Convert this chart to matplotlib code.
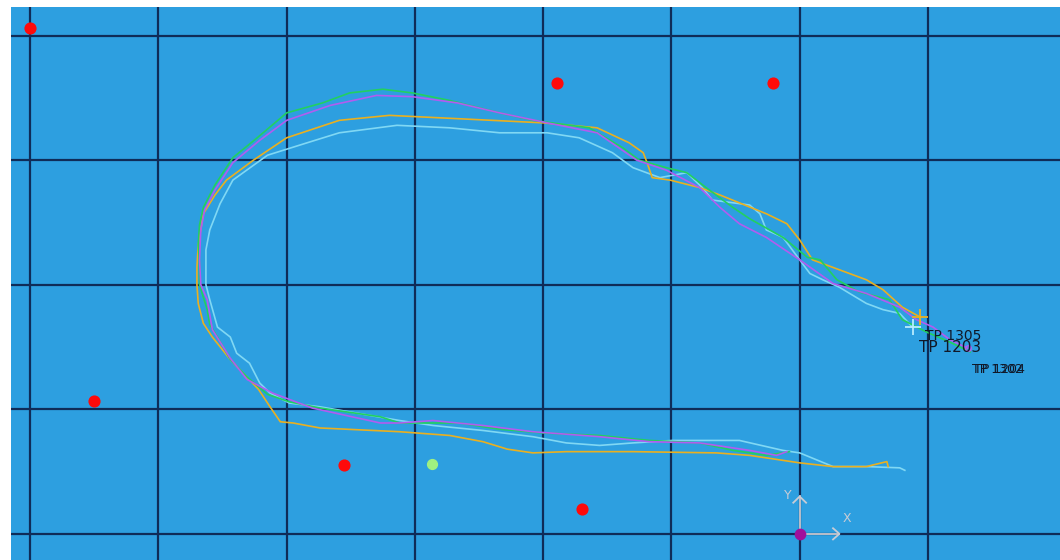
import matplotlib
matplotlib.use("Agg")
import matplotlib.pyplot as plt

# survey tracks, metres relative to the XY origin marker
green_x = [-0.8, -2.6, -5.2, -7.8, -11.7, -15.6, -20.0, -23.4, -26.5, -31.2, -32.7, -37.4, -39.8,
           -41.5, -43.1, -44.4, -45.4, -46.0, -46.2, -46.8, -46.8, -46.9, -46.8, -46.5, -45.6, -44.2,
           -42.3, -40.0, -37.2, -35.1, -32.5, -30.2, -27.3, -23.4, -20.8, -16.4, -13.8, -12.5, -10.4,
           -8.8, -7.3, -5.2, -3.9, -1.3, 0.6, 1.6, 2.9, 4.7, 7.0, 8.0, 9.9, 11.7, 13.3]
green_y = [6.6, 6.3, 6.7, 7.3, 7.5, 7.9, 8.1, 8.4, 8.9, 8.9, 9.4, 10.1, 10.6,
           11.2, 12.6, 14.0, 15.8, 16.8, 18.0, 20.0, 21.6, 23.2, 24.8, 26.2, 28.0, 30.2,
           31.8, 33.8, 34.6, 35.4, 35.7, 35.4, 34.8, 33.8, 33.2, 32.6, 31.0, 30.0, 29.4,
           29.0, 27.8, 26.2, 25.3, 23.8, 22.2, 22.0, 20.4, 19.4, 18.8, 17.2, 16.2, 15.4, 14.6]

purple_x = [-1.0, -1.8, -3.9, -7.8, -11.7, -15.6, -20.8, -24.7, -28.6, -31.2, -32.7, -38.0, -41.1,
            -43.1, -44.4, -45.8, -46.2, -46.7, -46.8, -46.7, -46.4, -45.6, -44.2, -42.1, -40.0, -36.6,
            -33.0, -30.2, -26.7, -23.4, -19.7, -15.8, -12.7, -10.4, -7.8, -6.2, -4.7, -2.6, 0.0,
            2.6, 5.2, 7.8, 9.1, 10.4, 11.7, 13.1]
purple_y = [6.6, 6.3, 6.7, 7.3, 7.4, 7.8, 8.2, 8.7, 9.1, 8.9, 8.9, 10.1, 11.3,
            12.4, 14.1, 16.4, 18.8, 20.0, 22.0, 24.4, 26.0, 27.6, 29.8, 31.6, 33.2, 34.4,
            35.2, 35.1, 34.6, 33.8, 33.0, 32.2, 30.0, 29.2, 27.8, 26.2, 24.9, 23.8, 22.0,
            20.1, 19.3, 18.2, 17.2, 16.6, 15.6, 14.9]

orange_x = [6.9, 6.8, 5.2, 2.6, 0.0, -3.9, -6.5, -13.0, -18.2, -20.8, -22.8, -24.7, -27.3,
            -31.2, -37.4, -39.5, -40.5, -41.3, -42.2, -43.4, -44.4, -45.8, -46.5, -46.9, -47.0,
            -47.0, -46.9, -46.5, -45.6, -44.7, -42.6, -40.0, -35.9, -32.0, -26.0, -20.0, -15.8,
            -13.3, -12.2, -11.9, -11.5, -10.1, -7.8, -6.2, -2.6, -1.0, 0.0, 1.0, 3.1, 5.2, 6.5,
            8.0, 9.4]
orange_y = [5.4, 5.8, 5.4, 5.4, 5.7, 6.3, 6.5, 6.6, 6.6, 6.5, 6.8, 7.4, 7.9,
            8.2, 8.5, 8.9, 9.0, 10.2, 11.6, 12.9, 14.0, 15.8, 16.9, 18.5, 20.0,
            21.4, 23.2, 25.7, 27.2, 28.4, 30.0, 31.8, 33.2, 33.6, 33.3, 33.0, 32.6,
            31.4, 30.6, 29.8, 28.6, 28.4, 27.8, 27.2, 25.7, 24.9, 23.6, 22.0, 21.2, 20.4, 19.6,
            18.2, 17.4]

cyan_x = [8.2, 7.8, 5.2, 2.6, 0.0, -1.3, -4.7, -9.9, -13.0, -15.6, -18.2, -20.8, -24.7,
          -28.6, -31.2, -37.4, -39.8, -41.3, -42.1, -42.9, -43.9, -44.4, -45.4, -46.0, -46.3,
          -46.3, -46.0, -45.2, -44.2, -41.5, -38.4, -35.9, -31.4, -27.3, -23.4, -19.7, -17.2,
          -14.6, -13.0, -10.9, -8.8, -7.6, -6.8, -3.9, -3.1, -2.6, -1.3, 0.0, 0.8, 1.8, 3.1,
          3.9, 5.2, 6.5, 7.8, 8.8]
cyan_y = [5.1, 5.3, 5.4, 5.4, 6.5, 6.7, 7.5, 7.5, 7.3, 7.1, 7.3, 7.8, 8.3,
          8.7, 9.1, 10.2, 10.5, 11.3, 12.1, 13.7, 14.5, 15.8, 16.6, 18.8, 20.0,
          22.8, 24.4, 26.5, 28.4, 30.4, 31.4, 32.2, 32.8, 32.6, 32.2, 32.2, 31.8,
          30.6, 29.4, 28.6, 29.0, 27.8, 26.8, 26.4, 25.7, 24.4, 23.8, 22.0, 20.9, 20.4, 19.8,
          19.3, 18.5, 18.0, 17.7, 16.6]

# control points
red_x = [-60.0, -18.9, -2.1, -55.0, -35.5, -17.0]
red_y = [40.6, 36.2, 36.2, 10.7, 5.5, 2.0]
green_pt = (-28.7, 5.6)

# track names and label anchors
labels = ["TP 1305", "TP 1203", "TP 1302", "TP 1204"]
label_x = [9.8, 9.3, 13.4, 13.6]
label_y = [15.9, 15.0, 13.2, 13.2]
label_size = [10, 11, 9, 9]

bg = "#2d9fe0"
grid_col = "#0f2c58"

fig = plt.figure(figsize=(10.6, 5.6), dpi=100)
ax = fig.add_axes([11 / 1060, 0, 1049 / 1060, 553 / 560])
ax.set_facecolor(bg)
ax.set_xlim(-61.5, 20.3)
ax.set_ylim(-2.1, 42.3)

for gx in range(-60, 20, 10):
    ax.axvline(gx, color=grid_col, lw=1.6, zorder=1)
for gy in range(0, 50, 10):
    ax.axhline(gy, color=grid_col, lw=1.6, zorder=1)

ax.plot(cyan_x, cyan_y, color="#80d8f4", lw=1.2, zorder=3)
ax.plot(orange_x, orange_y, color="#eab020", lw=1.2, zorder=3)
ax.plot(green_x, green_y, color="#22d060", lw=1.2, zorder=4)
ax.plot(purple_x, purple_y, color="#b25cf0", lw=1.2, zorder=5)

# start markers
ax.plot(orange_x[-1], orange_y[-1], marker="+", ms=11, mew=1.3, color="#eab020", zorder=6)
ax.plot(cyan_x[-1], cyan_y[-1], marker="+", ms=11, mew=1.3, color="#b8ecff", zorder=6)
ax.plot(purple_x[-1], purple_y[-1], marker="o", ms=4, mfc="none", mew=1, color="#b25cf0", zorder=6)

ax.scatter(red_x, red_y, s=60, color="#ff0a0a", zorder=6)
ax.scatter([green_pt[0]], [green_pt[1]], s=50, color="#a0f080", zorder=6)

# XY origin glyph
axis_col = "#c8ccd6"
ax.plot([0, 0], [0, 3.0], color=axis_col, lw=1.3, zorder=6)
ax.plot([0, 3.1], [0, 0], color=axis_col, lw=1.3, zorder=6)
ax.plot([-0.5, 0, 0.5], [2.5, 3.0, 2.5], color=axis_col, lw=1.3, zorder=6)
ax.plot([2.6, 3.1, 2.6], [0.45, 0, -0.45], color=axis_col, lw=1.3, zorder=6)
ax.text(-0.9, 3.1, "Y", color=axis_col, fontsize=9, ha="center", va="center")
ax.text(3.7, 1.2, "X", color=axis_col, fontsize=9, ha="center", va="center")
ax.scatter([0], [0], s=55, color="#a0109c", zorder=7)

for name, lx, ly, fs in zip(labels, label_x, label_y, label_size):
    ax.text(lx, ly, name, color="#101828", fontsize=fs, ha="left", va="center", zorder=8)

ax.set_xticks([])
ax.set_yticks([])
for s in ax.spines.values():
    s.set_visible(False)

fig.savefig("out.png", dpi=100)
